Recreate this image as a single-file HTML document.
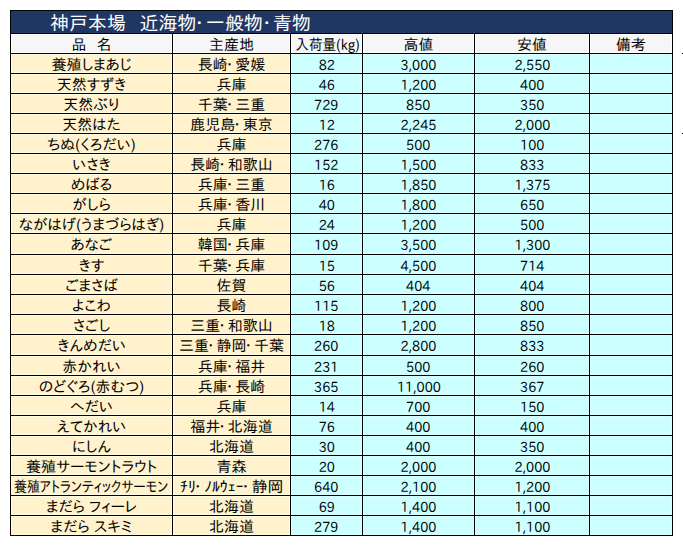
<!DOCTYPE html>
<html lang="ja"><head><meta charset="utf-8"><title>神戸本場 近海物・一般物・青物</title>
<style>
html,body{margin:0;padding:0;background:#fff;}
body{width:683px;height:546px;overflow:hidden;position:relative;
font-family:"IPAPGothic","IPAGothic","Noto Sans CJK JP",sans-serif;font-size:15px;color:#000;}
.frame{position:absolute;left:10px;top:10px;width:663px;height:526px;background:#000;}
.c{position:absolute;display:flex;align-items:flex-start;justify-content:center;white-space:nowrap;line-height:1;box-sizing:border-box;padding-top:3px;}
.c span{display:inline-block;}
.n{padding-top:4px;}
.n span{font-size:14px;transform:scaleX(0.92);}
b{font-weight:normal;}
.d{position:relative;left:-2px;}
.d1{position:relative;left:-1px;}
.ti{background:#203764;}
.tt{position:absolute;top:13px;color:#fff;font-size:19px;line-height:20px;white-space:nowrap;}
.h{background:#f6f6f6;box-shadow:inset 0 0 0 1px #fff;}
.y{background:#fff2cc;box-shadow:inset 0 0 0 1px #fffde2;}
.b{background:#ccffff;box-shadow:inset 0 0 0 1px #d9ffff;}
.sp{display:inline-block;width:10px;}
.mk{position:absolute;left:682px;width:1px;height:1px;background:#000;}
</style></head><body>
<div class="frame"></div>
<div class="ti" style="position:absolute;left:11px;top:11px;width:661px;height:22px;"></div>
<div class="tt" style="left:50px">神戸本場</div>
<div class="tt" style="left:139.5px">近海物<b class="d">･</b></div>
<div class="tt" style="left:206px">一般物<b class="d1">･</b></div>
<div class="tt" style="left:273px">青物</div>
<div class="c h" style="left:11px;top:34px;width:161px;height:19px;"><span>品<i class="sp"></i>名</span></div>
<div class="c h" style="left:173px;top:34px;width:117px;height:19px;"><span>主産地</span></div>
<div class="c h" style="left:291px;top:34px;width:71px;height:19px;"><span style="transform:translateX(1px) scaleX(0.907)">入荷量(kg)</span></div>
<div class="c h" style="left:363px;top:34px;width:111px;height:19px;"><span>高値</span></div>
<div class="c h" style="left:475px;top:34px;width:114px;height:19px;"><span>安値</span></div>
<div class="c h" style="left:590px;top:34px;width:82px;height:19px;"><span>備考</span></div>
<div class="c y" style="left:11px;top:54px;width:161px;height:19px;"><span>養殖しまあじ</span></div>
<div class="c y" style="left:173px;top:54px;width:117px;height:19px;"><span>長崎<b class="d">･</b>愛媛</span></div>
<div class="c b n" style="left:291px;top:54px;width:71px;height:19px;"><span>82</span></div>
<div class="c b n" style="left:363px;top:54px;width:111px;height:19px;"><span>3,000</span></div>
<div class="c b n" style="left:475px;top:54px;width:114px;height:19px;"><span>2,550</span></div>
<div class="c b n" style="left:590px;top:54px;width:82px;height:19px;"><span></span></div>
<div class="c y" style="left:11px;top:74px;width:161px;height:19px;"><span>天然すずき</span></div>
<div class="c y" style="left:173px;top:74px;width:117px;height:19px;"><span>兵庫</span></div>
<div class="c b n" style="left:291px;top:74px;width:71px;height:19px;"><span>46</span></div>
<div class="c b n" style="left:363px;top:74px;width:111px;height:19px;"><span>1,200</span></div>
<div class="c b n" style="left:475px;top:74px;width:114px;height:19px;"><span>400</span></div>
<div class="c b n" style="left:590px;top:74px;width:82px;height:19px;"><span></span></div>
<div class="c y" style="left:11px;top:94px;width:161px;height:19px;"><span>天然ぶり</span></div>
<div class="c y" style="left:173px;top:94px;width:117px;height:19px;"><span>千葉<b class="d">･</b>三重</span></div>
<div class="c b n" style="left:291px;top:94px;width:71px;height:19px;"><span>729</span></div>
<div class="c b n" style="left:363px;top:94px;width:111px;height:19px;"><span>850</span></div>
<div class="c b n" style="left:475px;top:94px;width:114px;height:19px;"><span>350</span></div>
<div class="c b n" style="left:590px;top:94px;width:82px;height:19px;"><span></span></div>
<div class="c y" style="left:11px;top:114px;width:161px;height:19px;"><span>天然はた</span></div>
<div class="c y" style="left:173px;top:114px;width:117px;height:19px;"><span>鹿児島<b class="d">･</b>東京</span></div>
<div class="c b n" style="left:291px;top:114px;width:71px;height:19px;"><span>12</span></div>
<div class="c b n" style="left:363px;top:114px;width:111px;height:19px;"><span>2,245</span></div>
<div class="c b n" style="left:475px;top:114px;width:114px;height:19px;"><span>2,000</span></div>
<div class="c b n" style="left:590px;top:114px;width:82px;height:19px;"><span></span></div>
<div class="c y" style="left:11px;top:134px;width:161px;height:19px;"><span>ちぬ(くろだい)</span></div>
<div class="c y" style="left:173px;top:134px;width:117px;height:19px;"><span>兵庫</span></div>
<div class="c b n" style="left:291px;top:134px;width:71px;height:19px;"><span>276</span></div>
<div class="c b n" style="left:363px;top:134px;width:111px;height:19px;"><span>500</span></div>
<div class="c b n" style="left:475px;top:134px;width:114px;height:19px;"><span>100</span></div>
<div class="c b n" style="left:590px;top:134px;width:82px;height:19px;"><span></span></div>
<div class="c y" style="left:11px;top:154px;width:161px;height:19px;"><span>いさき</span></div>
<div class="c y" style="left:173px;top:154px;width:117px;height:19px;"><span>長崎<b class="d">･</b>和歌山</span></div>
<div class="c b n" style="left:291px;top:154px;width:71px;height:19px;"><span>152</span></div>
<div class="c b n" style="left:363px;top:154px;width:111px;height:19px;"><span>1,500</span></div>
<div class="c b n" style="left:475px;top:154px;width:114px;height:19px;"><span>833</span></div>
<div class="c b n" style="left:590px;top:154px;width:82px;height:19px;"><span></span></div>
<div class="c y" style="left:11px;top:174px;width:161px;height:19px;"><span>めばる</span></div>
<div class="c y" style="left:173px;top:174px;width:117px;height:19px;"><span>兵庫<b class="d">･</b>三重</span></div>
<div class="c b n" style="left:291px;top:174px;width:71px;height:19px;"><span>16</span></div>
<div class="c b n" style="left:363px;top:174px;width:111px;height:19px;"><span>1,850</span></div>
<div class="c b n" style="left:475px;top:174px;width:114px;height:19px;"><span>1,375</span></div>
<div class="c b n" style="left:590px;top:174px;width:82px;height:19px;"><span></span></div>
<div class="c y" style="left:11px;top:194px;width:161px;height:19px;"><span>がしら</span></div>
<div class="c y" style="left:173px;top:194px;width:117px;height:19px;"><span>兵庫<b class="d">･</b>香川</span></div>
<div class="c b n" style="left:291px;top:194px;width:71px;height:19px;"><span>40</span></div>
<div class="c b n" style="left:363px;top:194px;width:111px;height:19px;"><span>1,800</span></div>
<div class="c b n" style="left:475px;top:194px;width:114px;height:19px;"><span>650</span></div>
<div class="c b n" style="left:590px;top:194px;width:82px;height:19px;"><span></span></div>
<div class="c y" style="left:11px;top:214px;width:161px;height:19px;"><span>ながはげ(うまづらはぎ)</span></div>
<div class="c y" style="left:173px;top:214px;width:117px;height:19px;"><span>兵庫</span></div>
<div class="c b n" style="left:291px;top:214px;width:71px;height:19px;"><span>24</span></div>
<div class="c b n" style="left:363px;top:214px;width:111px;height:19px;"><span>1,200</span></div>
<div class="c b n" style="left:475px;top:214px;width:114px;height:19px;"><span>500</span></div>
<div class="c b n" style="left:590px;top:214px;width:82px;height:19px;"><span></span></div>
<div class="c y" style="left:11px;top:234px;width:161px;height:20px;"><span>あなご</span></div>
<div class="c y" style="left:173px;top:234px;width:117px;height:20px;"><span>韓国<b class="d">･</b>兵庫</span></div>
<div class="c b n" style="left:291px;top:234px;width:71px;height:20px;"><span>109</span></div>
<div class="c b n" style="left:363px;top:234px;width:111px;height:20px;"><span>3,500</span></div>
<div class="c b n" style="left:475px;top:234px;width:114px;height:20px;"><span>1,300</span></div>
<div class="c b n" style="left:590px;top:234px;width:82px;height:20px;"><span></span></div>
<div class="c y" style="left:11px;top:255px;width:161px;height:19px;"><span>きす</span></div>
<div class="c y" style="left:173px;top:255px;width:117px;height:19px;"><span>千葉<b class="d">･</b>兵庫</span></div>
<div class="c b n" style="left:291px;top:255px;width:71px;height:19px;"><span>15</span></div>
<div class="c b n" style="left:363px;top:255px;width:111px;height:19px;"><span>4,500</span></div>
<div class="c b n" style="left:475px;top:255px;width:114px;height:19px;"><span>714</span></div>
<div class="c b n" style="left:590px;top:255px;width:82px;height:19px;"><span></span></div>
<div class="c y" style="left:11px;top:275px;width:161px;height:19px;"><span>ごまさば</span></div>
<div class="c y" style="left:173px;top:275px;width:117px;height:19px;"><span>佐賀</span></div>
<div class="c b n" style="left:291px;top:275px;width:71px;height:19px;"><span>56</span></div>
<div class="c b n" style="left:363px;top:275px;width:111px;height:19px;"><span>404</span></div>
<div class="c b n" style="left:475px;top:275px;width:114px;height:19px;"><span>404</span></div>
<div class="c b n" style="left:590px;top:275px;width:82px;height:19px;"><span></span></div>
<div class="c y" style="left:11px;top:295px;width:161px;height:19px;"><span>よこわ</span></div>
<div class="c y" style="left:173px;top:295px;width:117px;height:19px;"><span>長崎</span></div>
<div class="c b n" style="left:291px;top:295px;width:71px;height:19px;"><span>115</span></div>
<div class="c b n" style="left:363px;top:295px;width:111px;height:19px;"><span>1,200</span></div>
<div class="c b n" style="left:475px;top:295px;width:114px;height:19px;"><span>800</span></div>
<div class="c b n" style="left:590px;top:295px;width:82px;height:19px;"><span></span></div>
<div class="c y" style="left:11px;top:315px;width:161px;height:19px;"><span>さごし</span></div>
<div class="c y" style="left:173px;top:315px;width:117px;height:19px;"><span>三重<b class="d">･</b>和歌山</span></div>
<div class="c b n" style="left:291px;top:315px;width:71px;height:19px;"><span>18</span></div>
<div class="c b n" style="left:363px;top:315px;width:111px;height:19px;"><span>1,200</span></div>
<div class="c b n" style="left:475px;top:315px;width:114px;height:19px;"><span>850</span></div>
<div class="c b n" style="left:590px;top:315px;width:82px;height:19px;"><span></span></div>
<div class="c y" style="left:11px;top:335px;width:161px;height:20px;"><span>きんめだい</span></div>
<div class="c y" style="left:173px;top:335px;width:117px;height:20px;"><span>三重<b class="d">･</b>静岡<b class="d">･</b>千葉</span></div>
<div class="c b n" style="left:291px;top:335px;width:71px;height:20px;"><span>260</span></div>
<div class="c b n" style="left:363px;top:335px;width:111px;height:20px;"><span>2,800</span></div>
<div class="c b n" style="left:475px;top:335px;width:114px;height:20px;"><span>833</span></div>
<div class="c b n" style="left:590px;top:335px;width:82px;height:20px;"><span></span></div>
<div class="c y" style="left:11px;top:356px;width:161px;height:19px;"><span>赤かれい</span></div>
<div class="c y" style="left:173px;top:356px;width:117px;height:19px;"><span>兵庫<b class="d">･</b>福井</span></div>
<div class="c b n" style="left:291px;top:356px;width:71px;height:19px;"><span>231</span></div>
<div class="c b n" style="left:363px;top:356px;width:111px;height:19px;"><span>500</span></div>
<div class="c b n" style="left:475px;top:356px;width:114px;height:19px;"><span>260</span></div>
<div class="c b n" style="left:590px;top:356px;width:82px;height:19px;"><span></span></div>
<div class="c y" style="left:11px;top:376px;width:161px;height:19px;"><span>のどぐろ(赤むつ)</span></div>
<div class="c y" style="left:173px;top:376px;width:117px;height:19px;"><span>兵庫<b class="d">･</b>長崎</span></div>
<div class="c b n" style="left:291px;top:376px;width:71px;height:19px;"><span>365</span></div>
<div class="c b n" style="left:363px;top:376px;width:111px;height:19px;"><span>11,000</span></div>
<div class="c b n" style="left:475px;top:376px;width:114px;height:19px;"><span>367</span></div>
<div class="c b n" style="left:590px;top:376px;width:82px;height:19px;"><span></span></div>
<div class="c y" style="left:11px;top:396px;width:161px;height:19px;"><span>へだい</span></div>
<div class="c y" style="left:173px;top:396px;width:117px;height:19px;"><span>兵庫</span></div>
<div class="c b n" style="left:291px;top:396px;width:71px;height:19px;"><span>14</span></div>
<div class="c b n" style="left:363px;top:396px;width:111px;height:19px;"><span>700</span></div>
<div class="c b n" style="left:475px;top:396px;width:114px;height:19px;"><span>150</span></div>
<div class="c b n" style="left:590px;top:396px;width:82px;height:19px;"><span></span></div>
<div class="c y" style="left:11px;top:416px;width:161px;height:19px;"><span>えてかれい</span></div>
<div class="c y" style="left:173px;top:416px;width:117px;height:19px;"><span>福井<b class="d">･</b>北海道</span></div>
<div class="c b n" style="left:291px;top:416px;width:71px;height:19px;"><span>76</span></div>
<div class="c b n" style="left:363px;top:416px;width:111px;height:19px;"><span>400</span></div>
<div class="c b n" style="left:475px;top:416px;width:114px;height:19px;"><span>400</span></div>
<div class="c b n" style="left:590px;top:416px;width:82px;height:19px;"><span></span></div>
<div class="c y" style="left:11px;top:436px;width:161px;height:19px;"><span>にしん</span></div>
<div class="c y" style="left:173px;top:436px;width:117px;height:19px;"><span>北海道</span></div>
<div class="c b n" style="left:291px;top:436px;width:71px;height:19px;"><span>30</span></div>
<div class="c b n" style="left:363px;top:436px;width:111px;height:19px;"><span>400</span></div>
<div class="c b n" style="left:475px;top:436px;width:114px;height:19px;"><span>350</span></div>
<div class="c b n" style="left:590px;top:436px;width:82px;height:19px;"><span></span></div>
<div class="c y" style="left:11px;top:456px;width:161px;height:19px;"><span>養殖サーモントラウト</span></div>
<div class="c y" style="left:173px;top:456px;width:117px;height:19px;"><span>青森</span></div>
<div class="c b n" style="left:291px;top:456px;width:71px;height:19px;"><span>20</span></div>
<div class="c b n" style="left:363px;top:456px;width:111px;height:19px;"><span>2,000</span></div>
<div class="c b n" style="left:475px;top:456px;width:114px;height:19px;"><span>2,000</span></div>
<div class="c b n" style="left:590px;top:456px;width:82px;height:19px;"><span></span></div>
<div class="c y" style="left:11px;top:476px;width:161px;height:19px;"><span style="transform:scaleX(0.855)">養殖アトランティックサーモン</span></div>
<div class="c y" style="left:173px;top:476px;width:117px;height:19px;"><span style="transform:scaleX(1.06)">ﾁﾘ<b class="d">･</b>ﾉﾙｳｪｰ<b class="d">･</b>静岡</span></div>
<div class="c b n" style="left:291px;top:476px;width:71px;height:19px;"><span>640</span></div>
<div class="c b n" style="left:363px;top:476px;width:111px;height:19px;"><span>2,100</span></div>
<div class="c b n" style="left:475px;top:476px;width:114px;height:19px;"><span>1,200</span></div>
<div class="c b n" style="left:590px;top:476px;width:82px;height:19px;"><span></span></div>
<div class="c y" style="left:11px;top:496px;width:161px;height:19px;"><span>まだら フィーレ</span></div>
<div class="c y" style="left:173px;top:496px;width:117px;height:19px;"><span>北海道</span></div>
<div class="c b n" style="left:291px;top:496px;width:71px;height:19px;"><span>69</span></div>
<div class="c b n" style="left:363px;top:496px;width:111px;height:19px;"><span>1,400</span></div>
<div class="c b n" style="left:475px;top:496px;width:114px;height:19px;"><span>1,100</span></div>
<div class="c b n" style="left:590px;top:496px;width:82px;height:19px;"><span></span></div>
<div class="c y" style="left:11px;top:516px;width:161px;height:19px;"><span>まだら スキミ</span></div>
<div class="c y" style="left:173px;top:516px;width:117px;height:19px;"><span>北海道</span></div>
<div class="c b n" style="left:291px;top:516px;width:71px;height:19px;"><span>279</span></div>
<div class="c b n" style="left:363px;top:516px;width:111px;height:19px;"><span>1,400</span></div>
<div class="c b n" style="left:475px;top:516px;width:114px;height:19px;"><span>1,100</span></div>
<div class="c b n" style="left:590px;top:516px;width:82px;height:19px;"><span></span></div>
<div class="mk" style="top:53px"></div>
<div class="mk" style="top:133px"></div>
</body></html>
